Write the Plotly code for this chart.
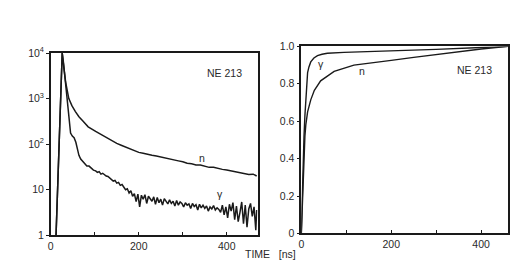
import plotly.graph_objects as go

# ---------- left panel: time spectra (log scale) ----------
n_t = [12, 19, 26, 30, 34, 41, 48, 56, 64, 72, 85, 102, 120, 139, 150, 160, 170, 180, 190, 200,
       210, 220, 230, 240, 250, 260, 270, 280, 290, 300, 310, 320, 330, 340, 350, 360, 370,
       380, 390, 400, 410, 420, 430, 440, 450, 460, 468]
n_v = [1, 100, 10000, 4500, 2250, 1000, 700, 520, 400, 330, 240, 190, 150, 117, 104, 95, 86, 78,
       71, 66, 63, 59, 57, 55, 52, 50, 47, 45, 43, 41, 38, 37, 35, 35, 33, 31, 31,
       29, 28, 27, 26, 25, 24, 22.5, 21.5, 22, 20]

g_t = [12, 19, 26, 29, 32, 35, 38, 42, 45, 49, 53, 57, 61, 64, 68, 72, 77, 82, 87, 92, 97, 102,
       106, 110, 114, 118, 122, 126, 130, 134, 138, 142, 146, 150, 154, 158, 162, 166, 170,
       174, 178, 182, 186, 190, 194, 198, 202, 206, 210, 214, 218, 222, 226, 230, 234, 238,
       242, 246, 250, 254, 258, 262, 266, 270, 274, 278, 282, 286, 290, 294, 298, 302, 306,
       310, 314, 318, 322, 326, 330, 334, 338, 342, 346, 350, 354, 358, 362, 366, 370, 374,
       378, 382, 386, 390, 394, 398, 402, 406, 410, 414, 418, 422, 426, 430, 434, 438, 442,
       446, 450, 454, 458, 462, 466, 468]
g_v = [1, 100, 10000, 6000, 3100, 1300, 630, 300, 175, 150, 138, 110, 75, 57, 47, 42, 38, 33,
       33, 29, 27, 26, 24, 25, 22, 23, 21, 20, 19.5, 18, 17, 15.5, 16, 14, 14.5, 12.5, 13, 11,
       10, 10.5, 8.5, 9.5, 7.2, 8.2, 5.5, 8.0, 4.2, 7.6, 6.2, 7.8, 5.0, 7.2, 6.4, 5.6, 7.0,
       4.8, 6.8, 5.2, 6.2, 4.6, 6.4, 5.6, 4.9, 6.0, 5.0, 5.6, 4.4, 5.8, 4.6, 5.4, 5.0, 4.2,
       5.2, 4.6, 4.9, 3.9, 5.0, 4.3, 4.7, 3.6, 4.8, 4.0, 4.6, 3.9, 4.4, 3.4, 4.2, 3.8, 4.5,
       3.6, 4.0, 3.7, 3.2, 4.6, 2.8, 4.2, 2.4, 4.8, 3.4, 5.2, 2.2, 4.4, 2.0, 3.2, 5.4, 1.8,
       4.6, 1.5, 3.8, 5.0, 2.6, 4.2, 1.3, 3.6, 1.8]

# ---------- right panel: integrated fractions ----------
gi_t = [0, 2, 4, 6, 8, 10, 12, 14, 17, 21, 28, 36, 46, 58, 95, 183, 300, 400, 460]
gi_v = [0, 0.2, 0.38, 0.52, 0.63, 0.72, 0.81, 0.86, 0.89, 0.917, 0.938, 0.951, 0.958, 0.963,
        0.968, 0.974, 0.984, 0.994, 1.0]
ni_t = [0, 2, 4, 6, 8, 10, 14, 21, 29, 43, 73, 117, 150, 200, 250, 300, 350, 400, 460]
ni_v = [0, 0.15, 0.3, 0.42, 0.52, 0.58, 0.65, 0.714, 0.765, 0.816, 0.866, 0.90, 0.909, 0.925,
        0.941, 0.956, 0.971, 0.986, 1.0]

log_ticks = [1, 10, 100, 1000, 10000]
log_text = ["1", "10", "10<sup>2</sup>", "10<sup>3</sup>", "10<sup>4</sup>"]
x_ticks = [0, 200, 400]
x_text = ["0", "200", "400"]
lin_ticks = [0, 0.2, 0.4, 0.6, 0.8, 1.0]
lin_text = ["0", "0.2", "0.4", "0.6", "0.8", "1.0"]

ink = "#1a1a1a"
FONT = dict(family="Liberation Sans, Arial, sans-serif", size=10.5, color="#2a2a2a")

fig = go.Figure()
fig.add_trace(go.Scatter(x=n_t, y=n_v, mode="lines", line=dict(color=ink, width=1.5),
                         xaxis="x", yaxis="y", showlegend=False))
fig.add_trace(go.Scatter(x=g_t, y=g_v, mode="lines", line=dict(color=ink, width=1.5),
                         xaxis="x", yaxis="y", showlegend=False))
fig.add_trace(go.Scatter(x=gi_t, y=gi_v, mode="lines", line=dict(color=ink, width=1.4),
                         xaxis="x2", yaxis="y2", showlegend=False))
fig.add_trace(go.Scatter(x=ni_t, y=ni_v, mode="lines", line=dict(color=ink, width=1.4),
                         xaxis="x2", yaxis="y2", showlegend=False))

axis_common = dict(showline=True, mirror=True, linecolor=ink, linewidth=1.5,
                   showgrid=False, zeroline=False, tickfont=FONT, tickcolor=ink)
minor_x = dict(dtick=100, tick0=0, ticks="inside", ticklen=4, tickcolor=ink, showgrid=False)

fig.update_layout(
    width=519, height=277,
    margin=dict(l=0, r=0, t=0, b=0),
    paper_bgcolor="white", plot_bgcolor="white",
    font=FONT,
    xaxis=dict(domain=[40/519, 248/519], range=[0, 470], tickvals=x_ticks, ticktext=x_text,
               ticks="inside", ticklen=4, anchor="y", minor=minor_x, **axis_common),
    yaxis=dict(domain=[1-231/277, 1-39/277], type="log", range=[0, 4], tickvals=log_ticks,
               ticktext=log_text, ticks="outside", ticklen=3, anchor="x", **axis_common),
    xaxis2=dict(domain=[292/519, 500/519], range=[0, 460], tickvals=x_ticks, ticktext=x_text,
                ticks="inside", ticklen=4, anchor="y2", minor=minor_x, **axis_common),
    yaxis2=dict(domain=[1-229/277, 1-32/277], range=[0, 1.0], tickvals=lin_ticks,
                ticktext=lin_text, ticks="outside", ticklen=3, anchor="x2", **axis_common),
    annotations=[
        dict(text="NE 213", x=395, y=3.56, xref="x", yref="y", showarrow=False, font=FONT),
        dict(text="n", x=343, y=1.70, xref="x", yref="y", showarrow=False, font=FONT),
        dict(text="γ", x=384, y=0.90, xref="x", yref="y", showarrow=False, font=FONT),
        dict(text="NE 213", x=385, y=0.873, xref="x2", yref="y2", showarrow=False, font=FONT),
        dict(text="γ", x=44, y=0.905, xref="x2", yref="y2", showarrow=False, font=FONT),
        dict(text="n", x=135, y=0.868, xref="x2", yref="y2", showarrow=False, font=FONT),
        dict(text="TIME&nbsp;&nbsp;&nbsp;[ns]", x=261/519, y=1-259/277, xref="paper",
             yref="paper", showarrow=False, font=FONT),
    ],
)

fig.write_html("out.html")
